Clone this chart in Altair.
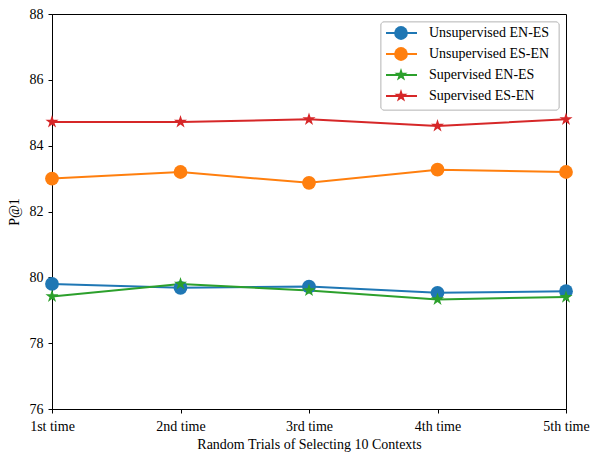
import altair as alt
import pandas as pd

trials = ["1st time", "2nd time", "3rd time", "4th time", "5th time"]
series_names = ["Unsupervised EN-ES", "Unsupervised ES-EN", "Supervised EN-ES", "Supervised ES-EN"]
unsup_en_es = [79.80, 79.68, 79.72, 79.53, 79.58]
unsup_es_en = [83.00, 83.20, 82.87, 83.27, 83.20]
sup_en_es = [79.42, 79.80, 79.60, 79.33, 79.40]
sup_es_en = [84.72, 84.72, 84.80, 84.60, 84.80]
colors = ["#1f77b4", "#ff7f0e", "#2ca02c", "#d62728"]
STAR = ("M0,-1L0.2245,-0.309L0.9511,-0.309L0.3633,0.118L0.5878,0.809L0,0.382"
        "L-0.5878,0.809L-0.3633,0.118L-0.9511,-0.309L-0.2245,-0.309Z")
shapes = ["circle", "circle", STAR, STAR]
sizes = [190, 190, 260, 260]

rows = []
for name, vals in zip(series_names, [unsup_en_es, unsup_es_en, sup_en_es, sup_es_en]):
    for t, v in zip(trials, vals):
        rows.append({"trial": t, "value": v, "series": name})
df = pd.DataFrame(rows)
leg = pd.DataFrame({"series": series_names})

W, H = 514, 395
FONT = "Liberation Serif"
color = alt.Color("series:N", scale=alt.Scale(domain=series_names, range=colors), legend=None)
shape = alt.Shape("series:N", scale=alt.Scale(domain=series_names, range=shapes), legend=None)
size = alt.Size("series:N", scale=alt.Scale(domain=series_names, range=sizes), legend=None)

xs = alt.Scale(type="point", padding=0)
ys = alt.Scale(domain=[76, 88], nice=False, zero=False)

lines = alt.Chart(df).mark_line(strokeWidth=2).encode(
    x=alt.X("trial:O", sort=trials, scale=xs,
            axis=alt.Axis(title="Random Trials of Selecting 10 Contexts", labelAngle=0,
                          labelPadding=6, titlePadding=4, labelBaseline="top")),
    y=alt.Y("value:Q", scale=ys,
            axis=alt.Axis(title="P@1", values=[76, 78, 80, 82, 84, 86, 88], format="d",
                          labelPadding=5, titlePadding=8)),
    color=color, detail="series:N")
points = alt.Chart(df).mark_point(filled=True, opacity=1).encode(
    x=alt.X("trial:O", sort=trials, scale=xs, axis=None),
    y=alt.Y("value:Q", scale=ys, axis=None),
    color=color, shape=shape, size=size)

ly = alt.Y("series:N", sort=series_names,
           scale=alt.Scale(type="point", domain=series_names, range=[19, 82], padding=0), axis=None)
box = alt.Chart(leg).mark_rect(fill="white", fillOpacity=0.8, stroke="#cccccc", strokeWidth=1,
                               cornerRadius=3).encode(
    x=alt.value(W - 185), x2=alt.value(W - 7), y=alt.value(8), y2=alt.value(96))
lrule = alt.Chart(leg).mark_rule(strokeWidth=2).encode(
    x=alt.value(W - 180), x2=alt.value(W - 149), y=ly, color=color)
lpt = alt.Chart(leg).mark_point(filled=True, opacity=1).encode(
    x=alt.value(W - 165), y=ly, color=color, shape=shape, size=size)
ltxt = alt.Chart(leg).mark_text(align="left", baseline="middle", font=FONT, fontSize=14,
                                color="black").encode(
    x=alt.value(W - 137), y=ly, text="series:N")

chart = alt.layer(lines, points, box, lrule, lpt, ltxt).resolve_scale(
    x="independent", y="independent").properties(
    width=W, height=H,
    autosize=alt.AutoSizeParams(type="none"),
    padding={"left": 44, "top": 6, "right": 24, "bottom": 43},
).configure_view(stroke="black", strokeWidth=1).configure_axis(
    labelFont=FONT, titleFont=FONT, labelFontSize=14, titleFontSize=14,
    labelColor="black", titleColor="black", titleFontWeight="normal",
    domainColor="black", tickColor="black", tickSize=4, grid=False,
)

chart.save("out.html", embed_options={"renderer": "svg", "actions": False})
